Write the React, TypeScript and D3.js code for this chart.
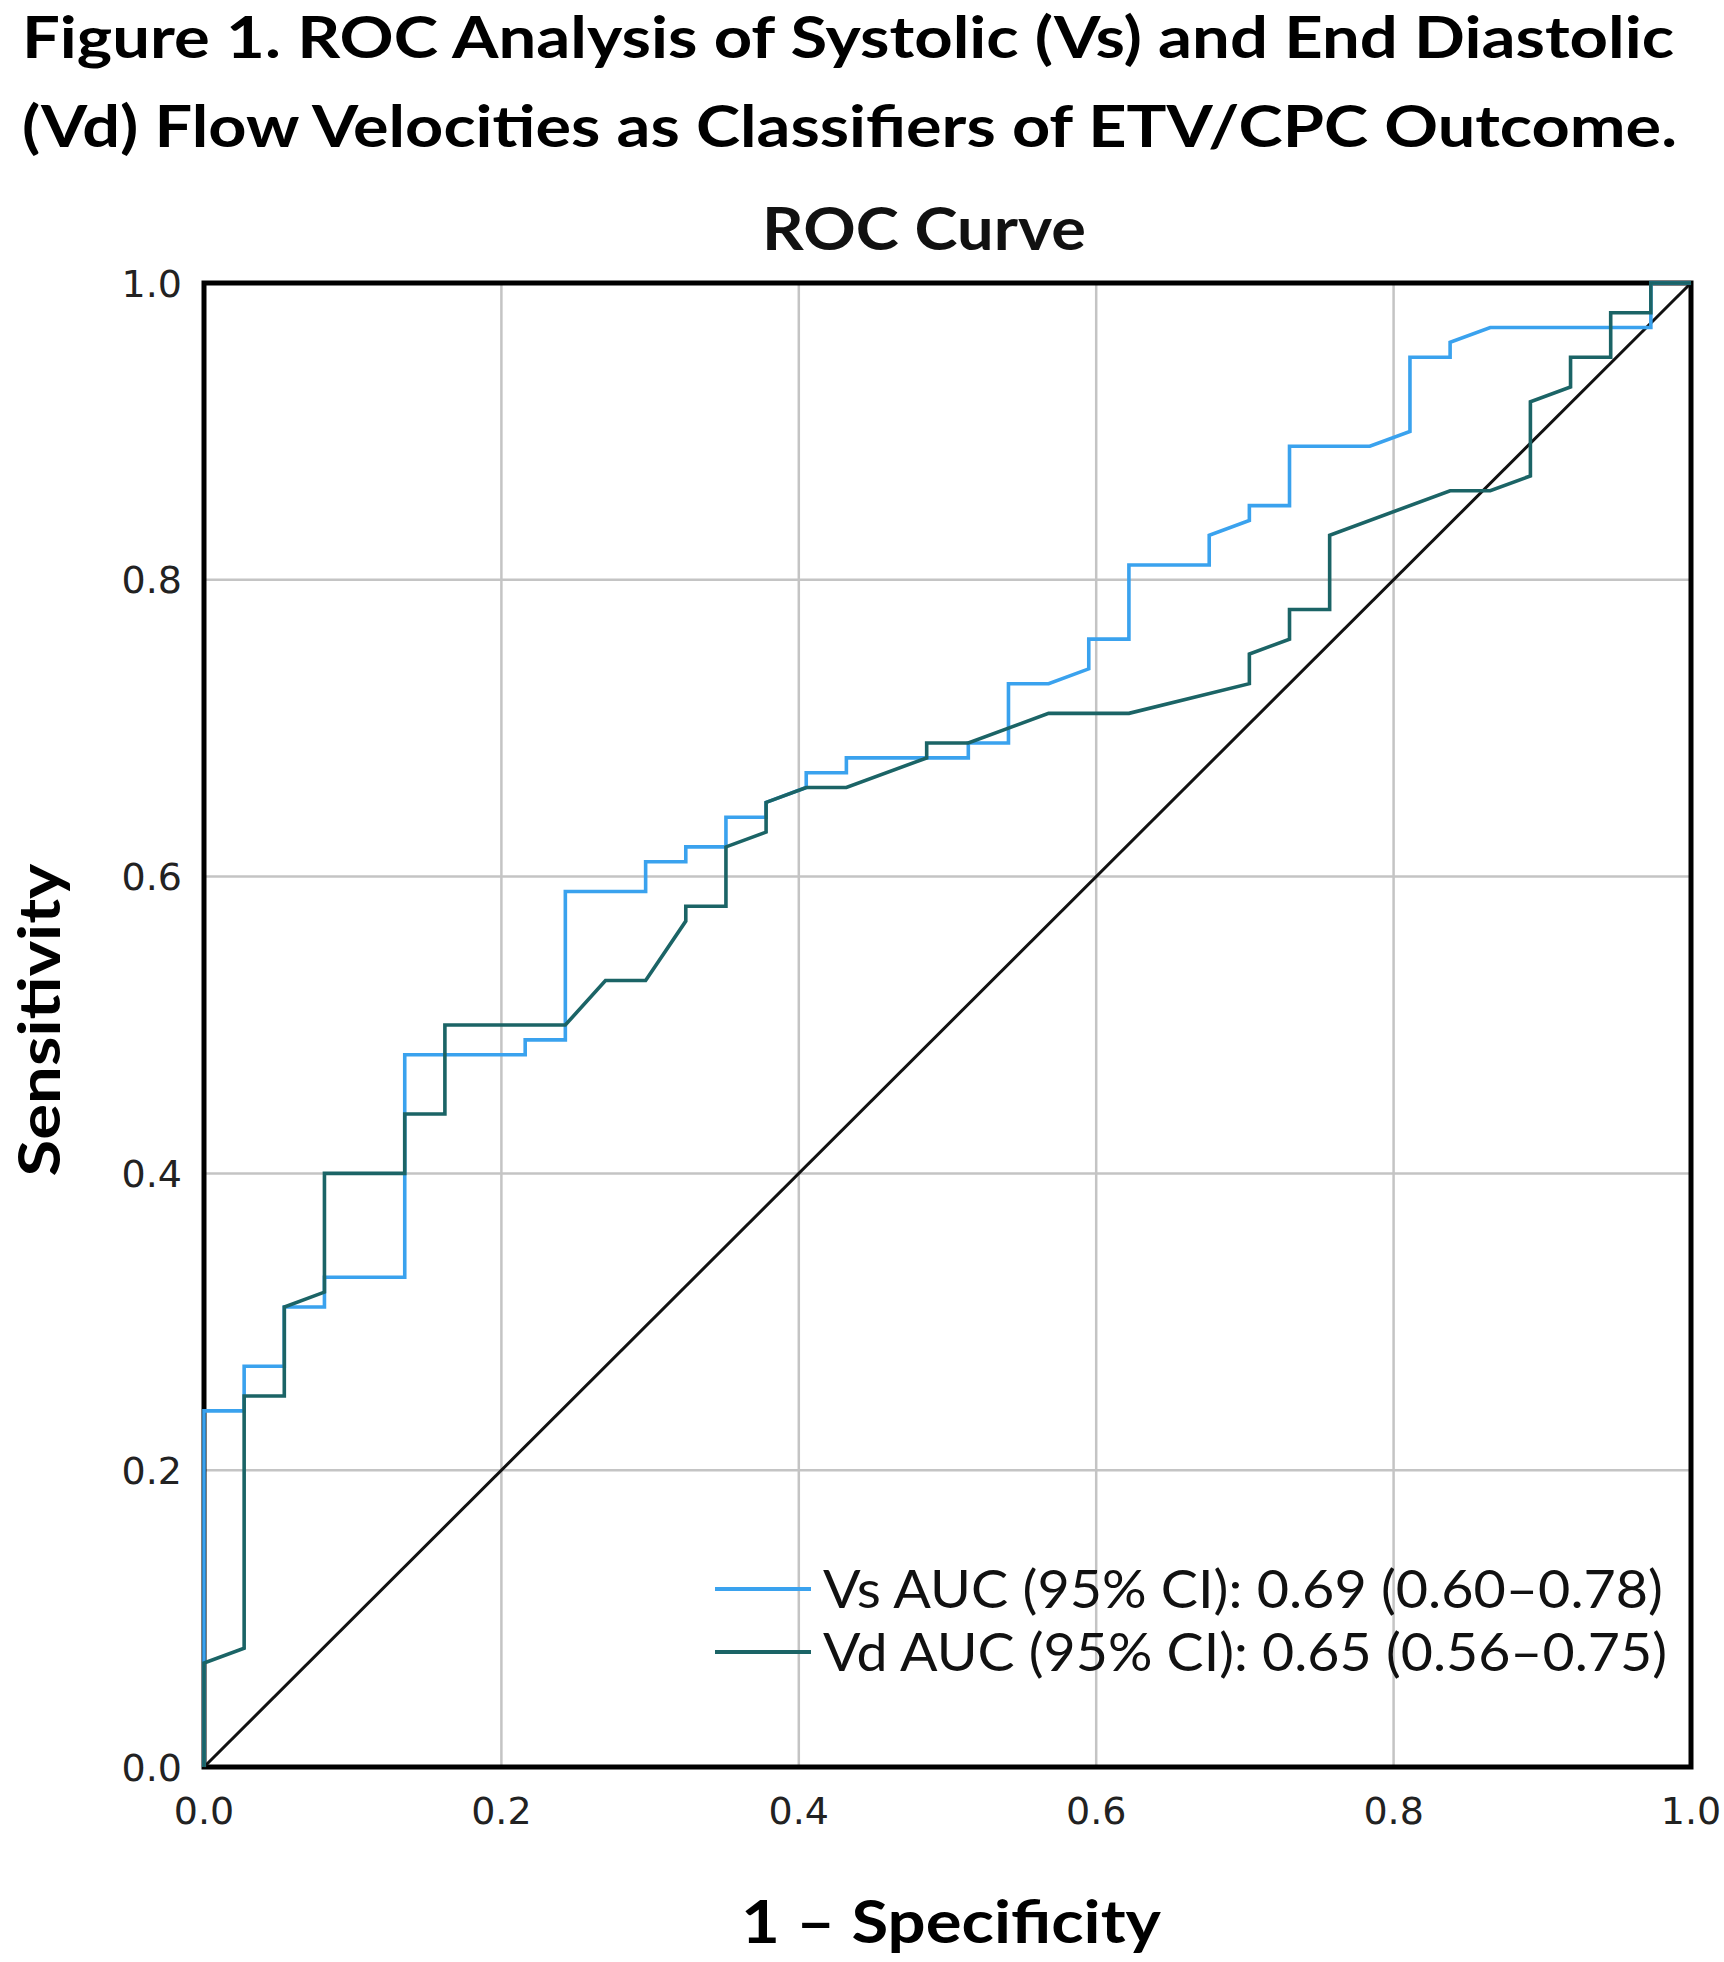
import React from "react";
import * as d3 from "d3";

const titleLines = [
  "Figure 1. ROC Analysis of Systolic (Vs) and End Diastolic",
  "(Vd) Flow Velocities as Classifiers of ETV/CPC Outcome.",
];
const chartTitle = "ROC Curve";
const xLabel = "1 \u2013 Specificity";
const yLabel = "Sensitivity";
const tickValues = [0, 0.2, 0.4, 0.6, 0.8, 1.0];

const vsFpr = [0, 0, 0.027, 0.027, 0.054, 0.054, 0.081, 0.081, 0.135, 0.135, 0.216, 0.216, 0.243, 0.243, 0.297, 0.297, 0.324, 0.324, 0.351, 0.351, 0.378, 0.378, 0.405, 0.405, 0.432, 0.432, 0.514, 0.514, 0.541, 0.541, 0.568, 0.595, 0.595, 0.622, 0.622, 0.676, 0.676, 0.703, 0.703, 0.73, 0.73, 0.784, 0.811, 0.811, 0.838, 0.838, 0.865, 0.973, 0.973, 1.0];
const vsTpr = [0, 0.24, 0.24, 0.27, 0.27, 0.31, 0.31, 0.33, 0.33, 0.48, 0.48, 0.49, 0.49, 0.59, 0.59, 0.61, 0.61, 0.62, 0.62, 0.64, 0.64, 0.65, 0.66, 0.67, 0.67, 0.68, 0.68, 0.69, 0.69, 0.73, 0.73, 0.74, 0.76, 0.76, 0.81, 0.81, 0.83, 0.84, 0.85, 0.85, 0.89, 0.89, 0.9, 0.95, 0.95, 0.96, 0.97, 0.97, 1.0, 1.0];

const vdFpr = [0, 0, 0.027, 0.027, 0.054, 0.054, 0.081, 0.081, 0.135, 0.135, 0.162, 0.162, 0.243, 0.27, 0.297, 0.324, 0.324, 0.351, 0.351, 0.378, 0.378, 0.405, 0.432, 0.486, 0.486, 0.514, 0.568, 0.622, 0.703, 0.703, 0.73, 0.73, 0.757, 0.757, 0.838, 0.865, 0.892, 0.892, 0.919, 0.919, 0.946, 0.946, 0.973, 0.973, 1.0];
const vdTpr = [0, 0.07, 0.08, 0.25, 0.25, 0.31, 0.32, 0.4, 0.4, 0.44, 0.44, 0.5, 0.5, 0.53, 0.53, 0.57, 0.58, 0.58, 0.62, 0.63, 0.65, 0.66, 0.66, 0.68, 0.69, 0.69, 0.71, 0.71, 0.73, 0.75, 0.76, 0.78, 0.78, 0.83, 0.86, 0.86, 0.87, 0.92, 0.93, 0.95, 0.95, 0.98, 0.98, 1.0, 1.0];

const seriesNames = [
  "Vs AUC (95% CI): 0.69 (0.60\u20130.78)",
  "Vd AUC (95% CI): 0.65 (0.56\u20130.75)",
];
const seriesColors = ["#3aa2ee", "#1b6466"];

export default function App() {
  const W = 1724, H = 1962;
  const L = 204, R = 1691, T = 283, B = 1767;
  const x = d3.scaleLinear().domain([0, 1]).range([L, R]);
  const y = d3.scaleLinear().domain([0, 1]).range([B, T]);
  const line = d3.line<[number, number]>().x((d) => x(d[0])).y((d) => y(d[1]));
  const vs: [number, number][] = vsFpr.map((f, i) => [f, vsTpr[i]]);
  const vd: [number, number][] = vdFpr.map((f, i) => [f, vdTpr[i]]);
  const series = [vs, vd];
  const titleFont = "Lato, 'Open Sans', sans-serif";
  const tickFont = "'DejaVu Sans', sans-serif";

  return (
    <svg width={W} height={H} style={{ position: "absolute", left: 0, top: 0, background: "#fff" }}>
      <rect x={0} y={0} width={W} height={H} fill="#fff" />
      {titleLines.map((t, i) => (
        <text key={i} x={22} y={i === 0 ? 58 : 147} fontFamily={titleFont} fontWeight={700} fontSize={58}
          textLength={i === 0 ? 1652 : 1655} lengthAdjust="spacingAndGlyphs" fill="#000">{t}</text>
      ))}
      <text x={762} y={250} fontFamily={titleFont} fontWeight={700} fontSize={59} textLength={324}
        lengthAdjust="spacingAndGlyphs" fill="#111">{chartTitle}</text>

      {/* grid */}
      {tickValues.slice(1, -1).map((v) => (
        <g key={"g" + v}>
          <line x1={x(v)} x2={x(v)} y1={T} y2={B} stroke="#c4c4c4" strokeWidth={2.5} />
          <line x1={L} x2={R} y1={y(v)} y2={y(v)} stroke="#c4c4c4" strokeWidth={2.5} />
        </g>
      ))}

      {/* frame */}
      <rect x={L} y={T} width={R - L} height={B - T} fill="none" stroke="#000" strokeWidth={5} />

      {/* diagonal */}
      <path d={line([[0, 0], [1, 1]]) || ""} stroke="#111" strokeWidth={3} fill="none" />

      {/* curves */}
      {series.map((s, i) => (
        <path key={i} d={line(s) || ""} stroke={seriesColors[i]} strokeWidth={3.6} fill="none" strokeLinejoin="miter" />
      ))}

      {/* ticks */}
      {tickValues.map((v) => (
        <text key={"y" + v} x={182} y={y(v)} dy="0.36em" textAnchor="end" fontFamily={tickFont}
          fontSize={38} fill="#222">{v.toFixed(1)}</text>
      ))}
      {tickValues.map((v) => (
        <text key={"x" + v} x={x(v)} y={1810} dy="0.36em" textAnchor="middle" fontFamily={tickFont}
          fontSize={38} fill="#222">{v.toFixed(1)}</text>
      ))}

      {/* axis labels */}
      <text x={951} y={1943} textAnchor="middle" fontFamily={titleFont} fontWeight={700} fontSize={60}
        textLength={420} lengthAdjust="spacingAndGlyphs" fill="#000">{xLabel}</text>
      <text transform="translate(60,1020) rotate(-90)" textAnchor="middle" fontFamily={titleFont} fontWeight={700}
        fontSize={58} textLength={313} lengthAdjust="spacingAndGlyphs" fill="#000">{yLabel}</text>

      {/* legend */}
      {seriesNames.map((n, i) => (
        <g key={"l" + i}>
          <line x1={715} x2={811} y1={1589 + i * 63} y2={1589 + i * 63} stroke={seriesColors[i]} strokeWidth={4} />
          <text x={823} y={1589 + i * 63} dy="0.36em" fontFamily={titleFont} fontSize={53}
            textLength={i === 0 ? 840 : 844} lengthAdjust="spacingAndGlyphs" fill="#111">{n}</text>
        </g>
      ))}
    </svg>
  );
}
